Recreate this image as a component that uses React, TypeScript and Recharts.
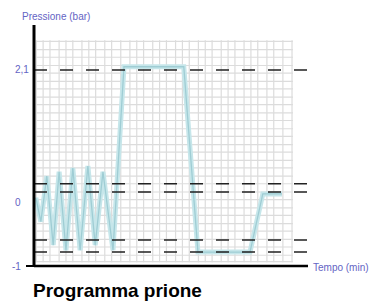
import { LineChart, Line, XAxis, YAxis, ReferenceLine } from 'recharts';

// tempo (min) e pressione (bar)
const tempo = [0.4, 1.5, 2.8, 4.2, 5.5, 7.0, 8.5, 10.1, 11.8, 13.4, 15.1, 17.3, 19.7, 32.8, 35.9, 47.3, 50.1, 54.3];
const pressione = [0.08, -0.3, 0.42, -0.67, 0.49, -0.75, 0.55, -0.75, 0.58, -0.67, 0.49, -0.75, 2.15, 2.15, -0.78, -0.78, 0.14, 0.14];

const yTicks = [-1, 0, 2.1];
const livelli = [2.1, 0.3, 0.17, -0.59, -0.78];

// carta millimetrata sullo sfondo
const gridX = [0.5, 2, 3.5, 5.5, 7, 8.5, 10.5, 12, 13.5, 15.5, 17, 19, 21, 22.5, 24, 26, 27.5, 29, 31, 32.5, 34, 36, 37.5, 39, 41, 42.5, 44, 46, 47.5, 49, 51, 52.5, 54.5, 56.5];
const gridY = [2.55, 2.42, 2.3, 2.17, 2.05, 1.92, 1.8, 1.67, 1.55, 1.42, 1.3, 1.17, 1.05, 0.92, 0.8, 0.67, 0.55, 0.42, 0.3, 0.17, 0.05, -0.08, -0.2, -0.33, -0.45, -0.58, -0.7, -0.83, -0.93];
const gridXRange = [0.4, 56.7];
const gridYRange = [-0.94, 2.57];

const data = tempo.map((t, i) => ({ t, p: pressione[i] }));

const labelColor = '#6464c4';

function YTick(props: any) {
  const { x, y, payload } = props;
  const label = String(payload.value).replace('.', ',');
  const neg = payload.value < 0;
  return (
    <g>
      <text x={x - 19 - (neg ? 3 : 0)} y={y} dy={3.5} textAnchor="start" fontSize={10} fill={labelColor} fontFamily="Liberation Sans, Arial, sans-serif">
        {label}
      </text>
      {payload.value === yTicks[0] && <line x1={x - 8} x2={x} y1={y} y2={y} stroke="#000" strokeWidth={2} />}
    </g>
  );
}

export default function App() {
  return (
    <div style={{ position: 'relative', width: 370, height: 305, background: '#fff', fontFamily: 'Liberation Sans, Arial, sans-serif' }}>
      <style>{`body{margin:0}`}</style>
      <div style={{ position: 'absolute', left: 22, top: 11, fontSize: 10, color: labelColor, lineHeight: '12px' }}>
        Pressione (bar)
      </div>
      <div style={{ position: 'absolute', left: 313, top: 262, fontSize: 10, color: labelColor, lineHeight: '12px' }}>
        Tempo (min)
      </div>
      <LineChart width={370} height={274} data={data} margin={{ top: 25, right: 62, left: 0, bottom: 4 }}>
        <XAxis
          type="number"
          dataKey="t"
          domain={[0, 60]}
          tick={false}
          tickLine={false}
          height={4}
          axisLine={{ stroke: '#000', strokeWidth: 2.5 }}
        />
        <YAxis
          type="number"
          domain={[-1, 2.81]}
          ticks={yTicks}
          interval={0}
          width={34}
          tickSize={0}
          tickMargin={0}
          tickLine={false}
          tick={<YTick />}
          axisLine={{ stroke: '#000', strokeWidth: 3 }}
        />
        {gridX.map((v) => (
          <ReferenceLine
            key={'gx' + v}
            segment={[{ x: v, y: gridYRange[0] }, { x: v, y: gridYRange[1] }]}
            stroke="#dcdcdc"
            strokeWidth={1.2}
          />
        ))}
        {gridY.map((v) => (
          <ReferenceLine
            key={'gy' + v}
            segment={[{ x: gridXRange[0], y: v }, { x: gridXRange[1], y: v }]}
            stroke="#dcdcdc"
            strokeWidth={1.2}
          />
        ))}
        <Line
          type="linear"
          dataKey="p"
          stroke="#c6e6ea"
          strokeWidth={5}
          dot={false}
          isAnimationActive={false}
        />
        <Line
          type="linear"
          dataKey="p"
          stroke="#9fcdd4"
          strokeWidth={1.3}
          dot={false}
          isAnimationActive={false}
        />
        {livelli.map((v) => (
          <ReferenceLine key={'l' + v} y={v} stroke="#222" strokeWidth={1.5} strokeDasharray="13 13" />
        ))}
      </LineChart>
      <div style={{ position: 'absolute', left: 33, top: 281, fontSize: 19, fontWeight: 'bold', color: '#000', lineHeight: '19px' }}>
        Programma prione
      </div>
    </div>
  );
}
